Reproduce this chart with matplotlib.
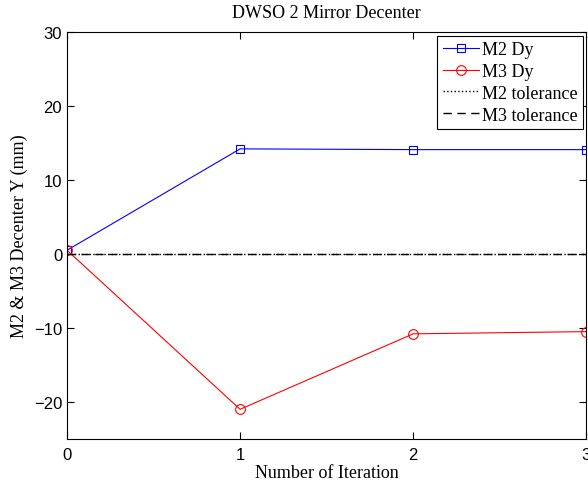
import matplotlib
matplotlib.use("Agg")
import matplotlib.pyplot as plt

iterations = [0, 1, 2, 3]
m2_dy = [0.5, 14.2, 14.1, 14.1]
m3_dy = [0.5, -21.0, -10.8, -10.5]
m2_tol = [0, 0, 0, 0]
m3_tol = [0, 0, 0, 0]

fig = plt.figure(figsize=(5.88, 4.85), dpi=100)
ax = fig.add_axes([0.114, 0.093, 0.883, 0.839])

ax.plot(iterations, m2_dy, color='blue', lw=0.8, marker='s', ms=6,
        mfc='none', mew=0.8, label='M2 Dy')
ax.plot(iterations, m3_dy, color='red', lw=0.8, marker='o', ms=7,
        mfc='none', mew=0.8, label='M3 Dy')
ax.plot(iterations, m2_tol, color='black', lw=1.0, ls=':', label='M2 tolerance')
ax.plot(iterations, m3_tol, color='black', lw=1.0, ls=(0, (6, 4)), label='M3 tolerance')

ax.set_xlim(0, 3)
ax.set_ylim(-25, 30)
ax.set_xticks([0, 1, 2, 3])
ax.set_yticks([-20, -10, 0, 10, 20, 30])
ax.tick_params(direction='in', top=True, right=True, length=5, width=0.8,
               labelsize=12)
ax.tick_params(axis='x', pad=6)
for lab in ax.get_xticklabels() + ax.get_yticklabels():
    lab.set_family('Liberation Sans')
for s in ax.spines.values():
    s.set_linewidth(0.8)

ax.set_title('DWSO 2 Mirror Decenter', family='Liberation Serif', fontsize=13, pad=11)
ax.set_xlabel('Number of Iteration', family='Liberation Serif', fontsize=13, labelpad=1)
ax.set_ylabel('M2 & M3 Decenter Y (mm)', family='Liberation Serif', fontsize=13, labelpad=4)

leg = ax.legend(loc='upper right', prop={'family': 'Liberation Serif', 'size': 13},
                fancybox=False, edgecolor='black', framealpha=1,
                borderaxespad=0.2, handlelength=2.0, handletextpad=0.15,
                labelspacing=0.27, borderpad=0.3)
leg.get_frame().set_linewidth(0.8)

fig.savefig('out.png', dpi=100)
